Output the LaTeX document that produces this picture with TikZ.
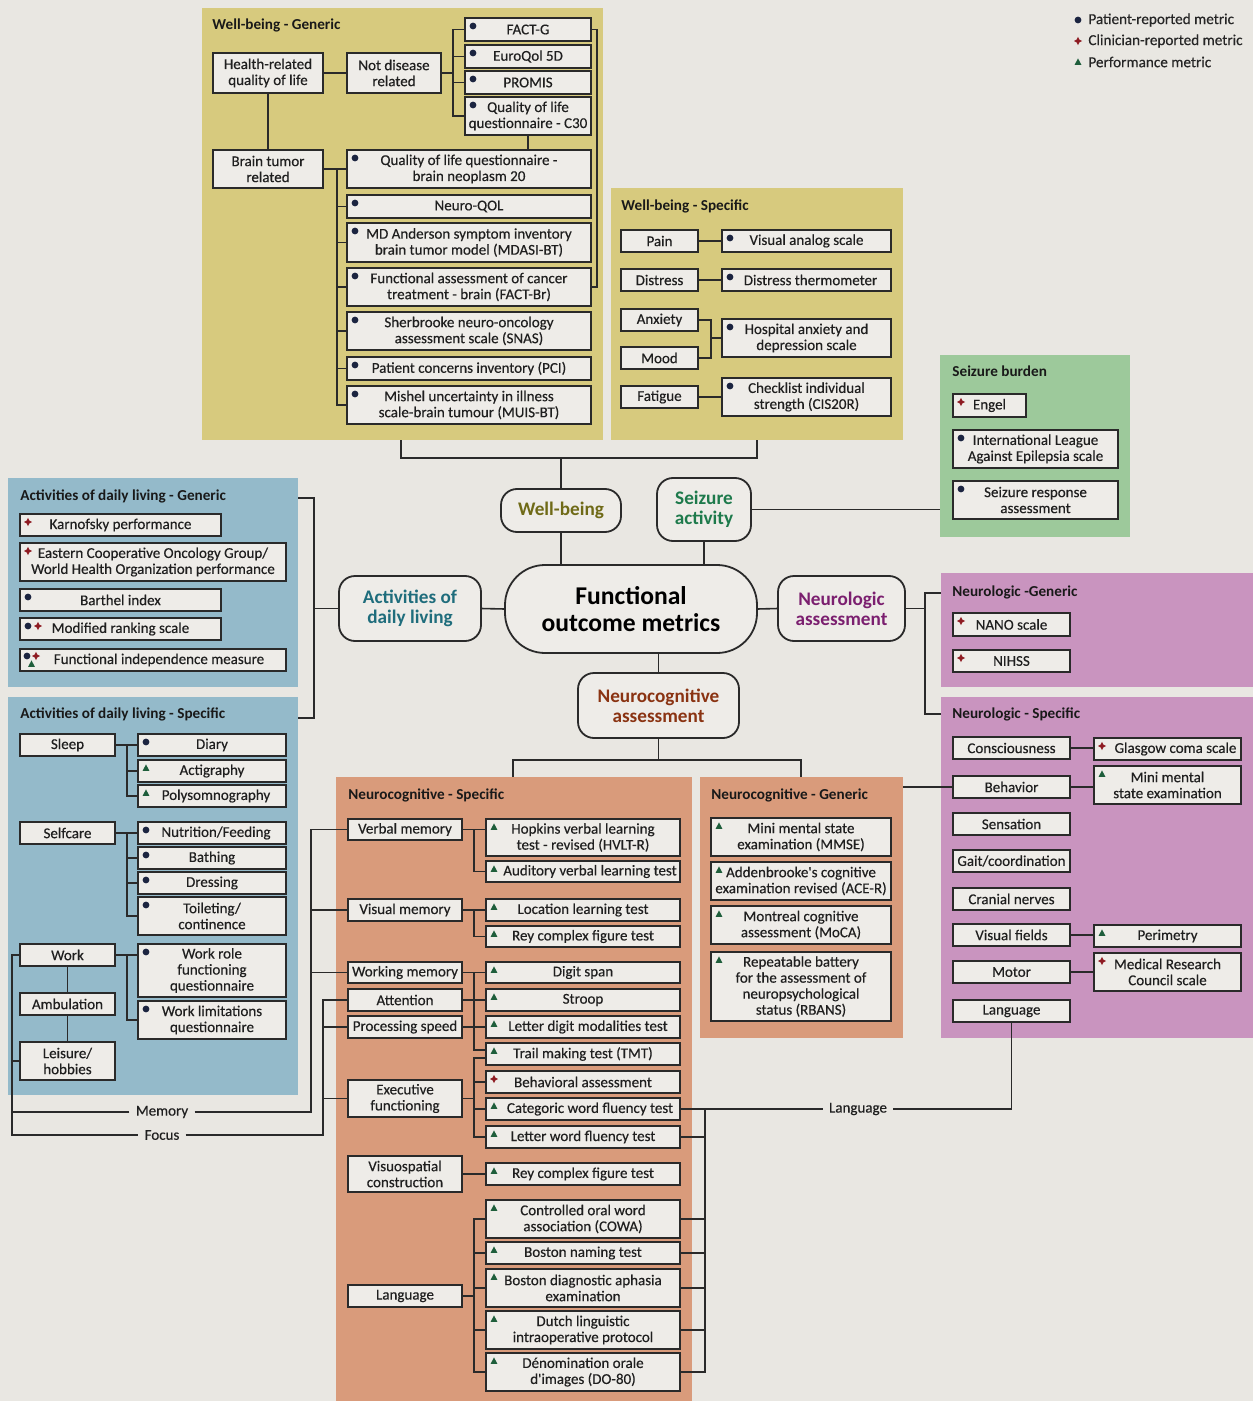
\documentclass[tikz,border=0pt]{standalone}
\usepackage{fontspec}
\setmainfont{Carlito}
\newfontfamily\medfont{Carlito}[FakeBold=0.35]
\usetikzlibrary{calc}

\definecolor{bgc}{HTML}{E9E7E2}
\definecolor{boxc}{HTML}{EEECE8}
\definecolor{linec}{HTML}{2A2A2A}
\definecolor{wbc}{HTML}{D7CA7E}
\definecolor{szc}{HTML}{9DC99B}
\definecolor{adlc}{HTML}{94BACA}
\definecolor{ncc}{HTML}{D99B7B}
\definecolor{nlc}{HTML}{C994BF}
\definecolor{dotc}{HTML}{1B2440}
\definecolor{diac}{HTML}{8E1B22}
\definecolor{tric}{HTML}{1E5E3B}
\definecolor{wbt}{HTML}{6F6A17}
\definecolor{szt}{HTML}{1E7A4C}
\definecolor{adlt}{HTML}{1F6D7C}
\definecolor{nlt}{HTML}{7B1F6F}
\definecolor{nct}{HTML}{8A3312}

\tikzset{
  box/.style={draw=linec, line width=0.9pt, fill=boxc, align=center, inner sep=1pt, outer sep=0pt, text=black!88, font=\medfont\fontsize{7.5}{8}\selectfont},
  panel/.style={fill=#1, draw=none, inner sep=0pt, outer sep=0pt},
  ptitle/.style={anchor=west, inner sep=0pt, font=\bfseries\fontsize{7.6}{8}\selectfont, text=black!90},
  cat/.style={draw=linec, line width=0.9pt, fill=boxc, rounded corners=8pt, align=center, inner sep=0pt, outer sep=0pt, font=\bfseries\fontsize{9.6}{10}\selectfont},
  conn/.style={draw=linec, line width=0.8pt},
  railtext/.style={inner xsep=3pt, inner ysep=1pt, font=\medfont\fontsize{7.5}{8}\selectfont, text=black!88},
  legtext/.style={anchor=west, inner sep=0pt, font=\medfont\fontsize{7.6}{8}\selectfont, text=black!85},
  pdot/.pic={\fill[dotc] (0,0) circle (1.7pt);},
  pdia/.pic={\fill[diac] (0,-4.2)--(1.4,-1.4)--(4,0)--(1.4,1.4)--(0,4.2)--(-1.4,1.4)--(-4,0)--(-1.4,-1.4)--cycle;},
  ptri/.pic={\fill[tric] (0,-3.6)--(3.4,2.8)--(-3.4,2.8)--cycle;},
}

% box from corner (x1,y1) to (x2,y2), in pixel units
\newcommand\bx[6]{\node[box,minimum width={(#4-#2)*0.5pt},minimum height={(#5-#3)*0.5pt}] (#1) at ({(#2+#4)/2},{(#3+#5)/2}) {#6};}
% coloured panel
\newcommand\pn[6]{\node[panel=#6,minimum width={(#4-#2)*0.5pt},minimum height={(#5-#3)*0.5pt}] (#1) at ({(#2+#4)/2},{(#3+#5)/2}) {};}
% category node
\newcommand\cn[7]{\node[cat,text=#6,minimum width={(#4-#2)*0.5pt},minimum height={(#5-#3)*0.5pt}] (#1) at ({(#2+#4)/2},{(#3+#5)/2}) {#7};}
% metric marker at the top left of a box
\newcommand\mk[2]{\path (#1.north west) ++(8,8) pic{#2};}
% room kept for a marker in front of a one-line text
\newcommand\gap[1]{\hspace*{#1}}

\begin{document}
\begin{tikzpicture}[x=0.5pt,y=-0.5pt]
\fill[bgc] (0,0) rectangle (1253,1401);
\useasboundingbox (0,0) rectangle (1253,1401);

% ---------- panels ----------
\pn{pWBG}{202}{8}{603}{440}{wbc}
\pn{pWBS}{611}{188}{903}{440}{wbc}
\pn{pSZ}{940}{355}{1130}{537}{szc}
\pn{pADLG}{8}{478}{298}{687}{adlc}
\pn{pADLS}{8}{697}{298}{1095}{adlc}
\pn{pNCS}{336}{777}{692}{1401}{ncc}
\pn{pNCG}{700}{777}{903}{1038}{ncc}
\pn{pNG}{941}{573}{1253}{687}{nlc}
\pn{pNS}{941}{697}{1253}{1038}{nlc}

\node[ptitle] (tWBG) at (212,25) {Well-being - Generic};
\node[ptitle] (tWBS) at (621,206) {Well-being - Specific};
\node[ptitle] (tSZ) at (952,371) {Seizure burden};
\node[ptitle] (tADLG) at (20,496) {Activities of daily living - Generic};
\node[ptitle] (tADLS) at (20,714) {Activities of daily living - Specific};
\node[ptitle] (tNCS) at (348,795) {Neurocognitive - Specific};
\node[ptitle] (tNCG) at (711,795) {Neurocognitive - Generic};
\node[ptitle] (tNG) at (952,592) {Neurologic -Generic};
\node[ptitle] (tNS) at (952,714) {Neurologic - Specific};

% ---------- legend ----------
\path (1078,20) pic{pdot};
\node[legtext] (lg1) at (1088,20) {Patient-reported metric};
\path (1078,41) pic{pdia};
\node[legtext] (lg2) at (1088,41) {Clinician-reported metric};
\path (1078,62) pic{ptri};
\node[legtext] (lg3) at (1088,62) {Performance metric};

% ---------- well-being generic ----------
\bx{HRQ}{213}{53}{323}{93}{Health-related\\quality of life}
\bx{NDR}{347}{53}{441}{93}{Not disease\\related}
\bx{FACTG}{465}{18}{591}{41}{FACT-G}
\bx{EQ}{465}{45}{591}{68}{EuroQol 5D}
\bx{PROMIS}{465}{71}{591}{94}{PROMIS}
\bx{CTHIRTY}{465}{97}{591}{135}{Quality of life\\questionnaire - C30}
\bx{BTR}{213}{150}{323}{188}{Brain tumor\\related}
\bx{BN}{347}{150}{591}{188}{Quality of life questionnaire -\\brain neoplasm 20}
\bx{NQOL}{347}{195}{591}{218}{Neuro-QOL}
\bx{MDASI}{347}{223}{591}{262}{MD Anderson symptom inventory\\brain tumor model (MDASI-BT)}
\bx{FACTBR}{347}{268}{591}{306}{Functional assessment of cancer\\treatment - brain (FACT-Br)}
\bx{SNAS}{347}{312}{591}{350}{Sherbrooke neuro-oncology\\assessment scale (SNAS)}
\bx{PCI}{347}{357}{591}{380}{Patient concerns inventory (PCI)}
\bx{MUIS}{347}{386}{591}{424}{Mishel uncertainty in illness\\scale-brain tumour (MUIS-BT)}
\foreach \n in {FACTG,EQ,PROMIS,CTHIRTY,BN,NQOL,MDASI,FACTBR,SNAS,PCI,MUIS} {\mk{\n}{pdot}}

% ---------- well-being specific ----------
\bx{Pain}{621}{230}{698}{252}{Pain}
\bx{Distr}{621}{269}{698}{291}{Distress}
\bx{Anx}{621}{309}{698}{331}{Anxiety}
\bx{Mood}{621}{347}{698}{369}{Mood}
\bx{Fatig}{621}{386}{698}{408}{Fatigue}
\bx{VAS}{722}{230}{891}{252}{Visual analog scale}
\bx{DT}{722}{269}{891}{291}{\gap{4pt}Distress thermometer}
\bx{HADS}{722}{319}{891}{357}{Hospital anxiety and\\depression scale}
\bx{CIS}{722}{378}{891}{416}{Checklist individual\\strength (CIS20R)}
\foreach \n in {VAS,DT,HADS,CIS} {\mk{\n}{pdot}}

% ---------- seizure burden ----------
\bx{Engel}{953}{394}{1026}{417}{Engel}
\bx{ILAE}{953}{430}{1118}{468}{International League\\Against Epilepsia scale}
\bx{SRA}{953}{481}{1118}{519}{Seizure response\\assessment}
\mk{Engel}{pdia}
\mk{ILAE}{pdot}
\mk{SRA}{pdot}

% ---------- activities of daily living generic ----------
\bx{KPS}{20}{514}{221}{536}{Karnofsky performance}
\bx{ECOG}{20}{543}{286}{581}{Eastern Cooperative Oncology Group/\\World Health Organization performance}
\bx{Barthel}{20}{589}{221}{611}{Barthel index}
\bx{MRS}{20}{618}{221}{640}{Modified ranking scale}
\bx{FIM}{20}{649}{286}{671}{\gap{6pt}Functional independence measure}
\mk{KPS}{pdia}
\mk{ECOG}{pdia}
\mk{Barthel}{pdot}
\mk{MRS}{pdot}
\path (MRS.north west) ++(18,8) pic{pdia};
\path (FIM.north west) ++(7,7) pic{pdot};
\path (FIM.north west) ++(16,7) pic{pdia};
\path (FIM.north west) ++(11.5,15) pic{ptri};

% ---------- activities of daily living specific ----------
\bx{Sleep}{20}{734}{115}{756}{Sleep}
\bx{Diary}{138}{734}{286}{756}{Diary}
\bx{Acti}{138}{760}{286}{782}{Actigraphy}
\bx{Poly}{138}{785}{286}{807}{\gap{4pt}Polysomnography}
\bx{Selfc}{20}{822}{115}{844}{Selfcare}
\bx{Nutr}{138}{822}{286}{844}{\gap{4pt}Nutrition/Feeding}
\bx{Bath}{138}{847}{286}{869}{Bathing}
\bx{Dress}{138}{872}{286}{894}{Dressing}
\bx{Toil}{138}{897}{286}{935}{Toileting/\\continence}
\bx{Work}{20}{944}{115}{966}{Work}
\bx{WRF}{138}{944}{286}{997}{Work role\\functioning\\questionnaire}
\bx{WLQ}{138}{1001}{286}{1039}{Work limitations\\questionnaire}
\bx{Amb}{20}{993}{115}{1015}{Ambulation}
\bx{Leis}{20}{1042}{115}{1080}{Leisure/\\hobbies}
\mk{Diary}{pdot}
\mk{Acti}{ptri}
\mk{Poly}{ptri}
\foreach \n in {Nutr,Bath,Dress,Toil,WRF,WLQ} {\mk{\n}{pdot}}

% ---------- neurocognitive specific ----------
\bx{VerbM}{348}{819}{462}{840}{Verbal memory}
\bx{VisM}{348}{899}{462}{921}{Visual memory}
\bx{WorkM}{348}{962}{462}{983}{Working memory}
\bx{Attn}{348}{989}{462}{1011}{Attention}
\bx{ProcS}{348}{1016}{462}{1038}{Processing speed}
\bx{Exec}{348}{1080}{462}{1117}{Executive\\functioning}
\bx{Visuo}{348}{1156}{462}{1192}{Visuospatial\\construction}
\bx{LangC}{348}{1285}{462}{1307}{Language}
\bx{HVLT}{486}{819}{680}{856}{Hopkins verbal learning\\test - revised (HVLT-R)}
\bx{AVLT}{486}{861}{680}{882}{\gap{7pt}Auditory verbal learning test}
\bx{LLT}{486}{899}{680}{921}{Location learning test}
\bx{ReyA}{486}{926}{680}{947}{Rey complex figure test}
\bx{Digit}{486}{962}{680}{983}{Digit span}
\bx{Stroop}{486}{989}{680}{1011}{Stroop}
\bx{LDMT}{486}{1016}{680}{1038}{\gap{5pt}Letter digit modalities test}
\bx{TMT}{486}{1043}{680}{1065}{Trail making test (TMT)}
\bx{Behav}{486}{1071}{680}{1093}{Behavioral assessment}
\bx{CWFT}{486}{1098}{680}{1120}{\gap{7pt}Categoric word fluency test}
\bx{LWFT}{486}{1126}{680}{1148}{Letter word fluency test}
\bx{ReyB}{486}{1163}{680}{1185}{Rey complex figure test}
\bx{COWA}{486}{1200}{680}{1238}{Controlled oral word\\association (COWA)}
\bx{BNT}{486}{1242}{680}{1264}{Boston naming test}
\bx{BDAE}{486}{1269}{680}{1307}{Boston diagnostic aphasia\\examination}
\bx{DLIP}{486}{1311}{680}{1349}{Dutch linguistic\\intraoperative protocol}
\bx{DO}{486}{1353}{680}{1391}{Dénomination orale\\d'images (DO-80)}
\foreach \n in {HVLT,AVLT,LLT,ReyA,Digit,Stroop,LDMT,TMT,CWFT,LWFT,ReyB,COWA,BNT,BDAE,DLIP,DO} {\mk{\n}{ptri}}
\mk{Behav}{pdia}

% ---------- neurocognitive generic ----------
\bx{MMSE}{711}{818}{891}{856}{Mini mental state\\examination (MMSE)}
\bx{ACER}{711}{862}{891}{900}{Addenbrooke's cognitive\\examination revised (ACE-R)}
\bx{MOCA}{711}{906}{891}{944}{Montreal cognitive\\assessment (MoCA)}
\bx{RBANS}{711}{952}{891}{1021}{Repeatable battery\\for the assessment of\\neuropsychological\\status (RBANS)}
\foreach \n in {MMSE,ACER,MOCA,RBANS} {\mk{\n}{ptri}}

% ---------- neurologic ----------
\bx{NANO}{953}{613}{1070}{636}{NANO scale}
\bx{NIHSS}{953}{650}{1070}{672}{NIHSS}
\mk{NANO}{pdia}
\mk{NIHSS}{pdia}
\bx{Consc}{953}{737}{1070}{759}{Consciousness}
\bx{NBeh}{953}{776}{1070}{798}{Behavior}
\bx{Sens}{953}{813}{1070}{835}{Sensation}
\bx{Gait}{953}{850}{1070}{872}{Gait/coordination}
\bx{Cran}{953}{888}{1070}{910}{Cranial nerves}
\bx{VisF}{953}{924}{1070}{946}{Visual fields}
\bx{Motor}{953}{961}{1070}{983}{Motor}
\bx{NLang}{953}{1000}{1070}{1022}{Language}
\bx{GCS}{1094}{738}{1241}{760}{\gap{8pt}Glasgow coma scale}
\bx{MMSEb}{1094}{766}{1241}{804}{Mini mental\\state examination}
\bx{Perim}{1094}{925}{1241}{947}{Perimetry}
\bx{MRC}{1094}{953}{1241}{991}{Medical Research\\Council scale}
\mk{GCS}{pdia}
\mk{MMSEb}{ptri}
\mk{Perim}{ptri}
\mk{MRC}{pdia}

% ---------- category nodes ----------
\cn{WB}{501}{489}{621}{532}{wbt}{Well-being}
\cn{SZ}{657}{478}{751}{541}{szt}{Seizure\\activity}
\cn{ADL}{339}{576}{481}{641}{adlt}{Activities of\\daily living}
\cn{NEU}{778}{576}{905}{641}{nlt}{Neurologic\\assessment}
\cn{NCA}{578}{673}{739}{738}{nct}{Neurocognitive\\assessment}
\node[cat, rounded corners=20pt, minimum width=126pt, minimum height=44pt, text=black, font=\bfseries\fontsize{12.8}{13.5}\selectfont] (FOM) at (631,609) {Functional\\outcome metrics};

% ---------- rail labels ----------
\node[railtext] (memlbl) at (162,1112) {Memory};
\node[railtext] (foclbl) at (162,1135) {Focus};
\node[railtext] (langlbl) at (858,1109) {Language};

% ---------- rail positions ----------
\coordinate (ndx) at (453,0);
\coordinate (btx) at (337,0);
\coordinate (hx) at (711,0);
\coordinate (sx) at (127,0);
\coordinate (rail) at (12,0);
\coordinate (memx) at (311,0);
\coordinate (focx) at (323,0);
\coordinate (ncx) at (474,0);
\coordinate (rx) at (705,0);
\coordinate (wbL) at (401,458);
\coordinate (wbR) at (757,458);
\coordinate (ncL) at (513,760);
\coordinate (ncR) at (801,760);
\coordinate (neT) at (925,593);
\coordinate (neB) at (925,714);
\coordinate (adT) at (314,498);
\coordinate (adB) at (314,718);

% ---------- connectors: hub ----------
\draw[conn] (pWBG.south -| wbL) -- (wbL) -- (wbR) -- (pWBS.south -| wbR);
\draw[conn] (WB.north) -- (WB.north |- wbL);
\draw[conn] (WB.south) -- (WB.south |- FOM.north);
\draw[conn] (SZ.south) -- (SZ.south |- FOM.north);
\draw[conn] (SZ.east) -- (SZ.east -| pSZ.west);
\draw[conn] (FOM.west) -- (ADL.east);
\draw[conn] (FOM.east) -- (NEU.west);
\draw[conn] (NCA.north) -- (NCA.north |- FOM.south);
\draw[conn] (pNCS.north -| ncL) -- (ncL) -- (ncR) -- (pNCG.north -| ncR);
\draw[conn] (NCA.south) -- (NCA.south |- ncL);
\draw[conn] (pNG.west |- neT) -- (neT) -- (neB) -- (pNS.west |- neB);
\draw[conn] (NEU.east) -- (NEU.east -| neT);
\draw[conn] (pADLG.east |- adT) -- (adT) -- (adB) -- (pADLS.east |- adB);
\draw[conn] (ADL.west) -- (ADL.west -| adT);
\draw[conn] (NBeh.west) -- (NBeh.west -| pNCG.east);

% ---------- connectors: well-being ----------
\draw[conn] (HRQ.east) -- (NDR.west);
\draw[conn] (HRQ.south) -- (BTR.north);
\draw[conn] (NDR.east) -- (NDR.east -| ndx);
\draw[conn] (FACTG.west) -- (FACTG.west -| ndx) -- (CTHIRTY.west -| ndx) -- (CTHIRTY.west);
\draw[conn] (EQ.west) -- (EQ.west -| ndx);
\draw[conn] (PROMIS.west) -- (PROMIS.west -| ndx);
\draw[conn] (CTHIRTY.south) -- (CTHIRTY.south |- BN.north);
\draw[conn] (FACTG.east) -- ++(6,0) |- (FACTBR.east);
\draw[conn] (BTR.east) -- (BN.west);
\draw[conn] (BN.west -| btx) -- (MUIS.west -| btx) -- (MUIS.west);
\foreach \n in {NQOL,MDASI,FACTBR,SNAS,PCI} {\draw[conn] (\n.west) -- (\n.west -| btx);}
\draw[conn] (Pain.east) -- (VAS.west);
\draw[conn] (Distr.east) -- (DT.west);
\draw[conn] (Fatig.east) -- (CIS.west);
\draw[conn] (Anx.east) -- (Anx.east -| hx) -- (Mood.east -| hx) -- (Mood.east);
\draw[conn] (HADS.west) -- (HADS.west -| hx);

% ---------- connectors: daily living ----------
\draw[conn] (Sleep.east) -- (Diary.west);
\draw[conn] (Diary.west -| sx) -- (Poly.west -| sx) -- (Poly.west);
\draw[conn] (Acti.west) -- (Acti.west -| sx);
\draw[conn] (Selfc.east) -- (Nutr.west);
\draw[conn] (Nutr.west -| sx) -- (Toil.west -| sx) -- (Toil.west);
\draw[conn] (Bath.west) -- (Bath.west -| sx);
\draw[conn] (Dress.west) -- (Dress.west -| sx);
\draw[conn] (Work.east) -- (Work.east -| WRF.west);
\draw[conn] (Work.east -| sx) -- (WLQ.west -| sx) -- (WLQ.west);
\draw[conn] (Work.south) -- (Amb.north);
\draw[conn] (Amb.south) -- (Leis.north);
\draw[conn] (Work.west) -- (Work.west -| rail) |- (foclbl.west);
\draw[conn] (Leis.west) -- (Leis.west -| rail);
\draw[conn] (memlbl.west) -- (memlbl.west -| rail);
\draw[conn] (memlbl.east) -| (VerbM.west -| memx) -- (VerbM.west);
\draw[conn] (VisM.west) -- (VisM.west -| memx);
\draw[conn] (WorkM.west) -- (WorkM.west -| memx);
\draw[conn] (foclbl.east) -| (Attn.west -| focx) -- (Attn.west);
\draw[conn] (ProcS.west) -- (ProcS.west -| focx);
\draw[conn] (Exec.west) -- (Exec.west -| focx);

% ---------- connectors: neurocognitive ----------
\draw[conn] (VerbM.east) -- (VerbM.east -| HVLT.west);
\draw[conn] (VerbM.east -| ncx) -- (AVLT.west -| ncx) -- (AVLT.west);
\draw[conn] (VisM.east) -- (LLT.west);
\draw[conn] (VisM.east -| ncx) -- (ReyA.west -| ncx) -- (ReyA.west);
\draw[conn] (WorkM.east) -- (Digit.west);
\draw[conn] (Digit.west -| ncx) -- ($(TMT.west -| ncx)+(0,-4)$) -- ($(TMT.west)+(0,-4)$);
\draw[conn] (Attn.east) -- (Attn.east -| ncx);
\draw[conn] (Stroop.west) -- (Stroop.west -| ncx);
\draw[conn] (ProcS.east) -- (LDMT.west);
\draw[conn] ($(TMT.west)+(0,4)$) -- ($(TMT.west -| ncx)+(0,4)$) -- (LWFT.west -| ncx) -- (LWFT.west);
\draw[conn] (Behav.west) -- (Behav.west -| ncx);
\draw[conn] (CWFT.west) -- (CWFT.west -| ncx);
\draw[conn] (Exec.east) -- (Exec.east -| ncx);
\draw[conn] (Visuo.east) -- (ReyB.west);
\draw[conn] (COWA.west) -- (COWA.west -| ncx) -- (DO.west -| ncx) -- (DO.west);
\draw[conn] (LangC.east) -- (LangC.east -| ncx);
\foreach \n in {BNT,BDAE,DLIP} {\draw[conn] (\n.west) -- (\n.west -| ncx);}
\draw[conn] (CWFT.east) -- (langlbl.west);
\draw[conn] (CWFT.east -| rx) -- (DO.east -| rx) -- (DO.east);
\foreach \n in {LWFT,COWA,BNT,BDAE,DLIP} {\draw[conn] (\n.east) -- (\n.east -| rx);}
\draw[conn] (langlbl.east) -| (NLang.south);

% ---------- connectors: neurologic ----------
\draw[conn] (Consc.east) -- (Consc.east -| GCS.west);
\draw[conn] (NBeh.east) -- (NBeh.east -| MMSEb.west);
\draw[conn] (VisF.east) -- (VisF.east -| Perim.west);
\draw[conn] (Motor.east) -- (MRC.west);
\end{tikzpicture}
\end{document}
